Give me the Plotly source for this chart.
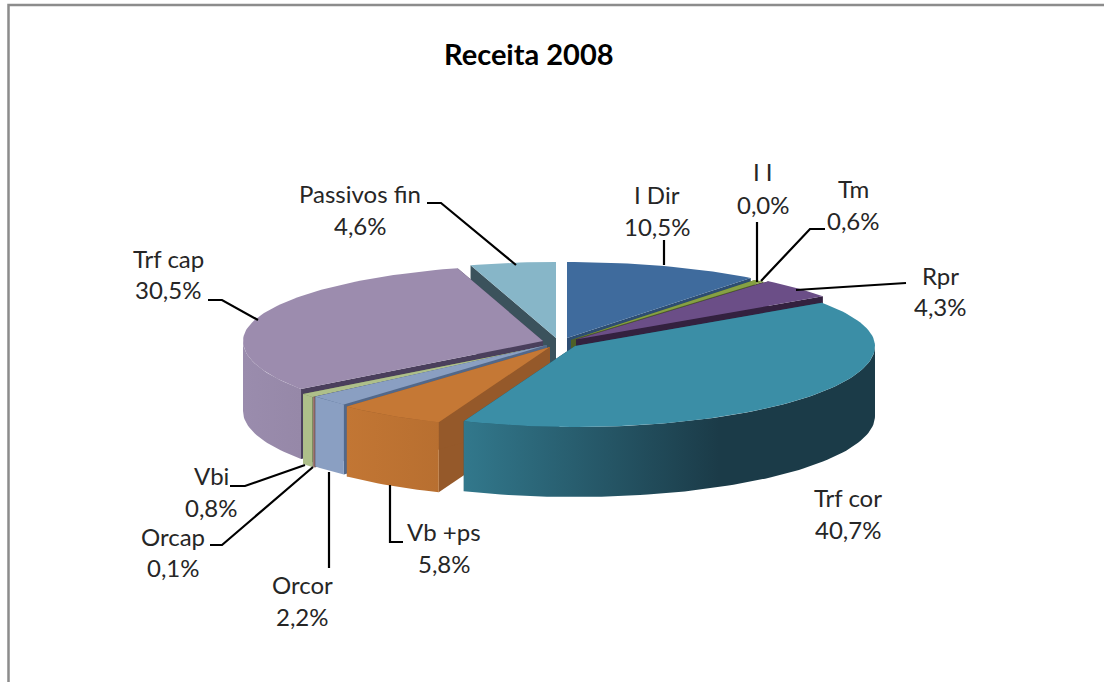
import math
import plotly.graph_objects as go

# --- data -----------------------------------------------------------------
categories = ["I Dir", "I I", "Tm", "Rpr", "Trf cor", "Vb +ps", "Orcor", "Orcap", "Vbi", "Trf cap", "Passivos fin"]
values = [10.5, 0.0, 0.6, 4.3, 40.7, 5.8, 2.2, 0.1, 0.8, 30.5, 4.6]
title_text = "Receita 2008"

# --- styles ---------------------------------------------------------------
top_col = ["#3f6b9d", "#86a044", "#86a044", "#6b4e87", "#3b8ea6", "#c57835", "#8a9fc2", "#a9807c", "#aebf8a", "#9c8cae", "#87b6c8"]
wall_left = ["#355a85", "#5f7330", "#5f7330", "#4f3a66", "#32788c", "#c27634", "#8a9fc2", "#a9807c", "#aebf8a", "#9a8cad", "#87b6c8"]
wall_right = ["#2d4d72", "#4e5f27", "#4e5f27", "#33213f", "#1b3b48", "#b86f30", "#8a9fc2", "#a9807c", "#aebf8a", "#9688a8", "#87b6c8"]
radial_col = ["#2d4d72", "#4e5f27", "#4e5f27", "#33213f", "#1f4a58", "#95592a", "#52688a", "#70504e", "#6f7d55", "#4a3f5c", "#3b525c"]
slice_cx = [567, 571, 571, 576, 575, 550, 547, 546, 545, 543, 556]
slice_cy = [338, 340, 340, 339.5, 346, 347, 345, 346, 346, 341, 338]
paint_order = [10, 0, 1, 2, 3, 9, 8, 7, 6, 5, 4]
RX, RY_BACK, RY_FRONT, DEPTH = 300, 76, 81, 70

label_x = [657, 763, 853, 940, 848, 444, 302, 173, 211, 168, 360]
name_y = [194, 171, 188, 275, 497, 531, 584, 536, 475, 258, 193]
pct_y = [226, 204, 220, 306, 529, 563, 616, 567, 507, 289, 225]
leader_x = [[664, 664], [757, 757], [825, 810, 761], [906, 796], [], [403, 390, 390], [329, 329], [210, 222, 313], [230, 245, 305], [208, 222, 258], [427, 441, 516]]
leader_y = [[240, 265], [222, 282], [229, 229, 281], [283, 290], [], [542, 542, 485], [568, 472], [545, 545, 467], [486, 486, 465], [300, 300, 320], [203, 203, 265]]

border_x = [8.5, 8.5, 1104]
border_y = [682, 5, 5]

# --- geometry derived from the values ---------------------------------------
total = sum(values)
starts, ends = [], []
acc = 0.0
for v in values:
    starts.append(acc / total * 360)
    acc += v
    ends.append(acc / total * 360)


def rim(cx, cy, deg):
    a = math.radians(deg)
    ry = RY_BACK if math.cos(a) > 0 else RY_FRONT
    return cx + RX * math.sin(a), cy - ry * math.cos(a)


def arc(cx, cy, a0, a1):
    n = max(2, int(abs(a1 - a0) / 1.5) + 2)
    pts = [rim(cx, cy, a0 + (a1 - a0) * k / (n - 1)) for k in range(n)]
    return [p[0] for p in pts], [p[1] for p in pts]


fig = go.Figure()


def poly(xs, ys, color=None, gradient=None):
    kw = dict(x=xs, y=ys, mode="lines", line=dict(width=0), fill="toself", hoverinfo="skip", showlegend=False)
    if gradient:
        kw["fillgradient"] = gradient
    else:
        kw["fillcolor"] = color
    fig.add_trace(go.Scatter(**kw))


for i in paint_order:
    if values[i] <= 0:
        continue
    cx, cy, a0, a1 = slice_cx[i], slice_cy[i], starts[i], ends[i]
    for edge in (a0, a1):
        ex, ey = rim(cx, cy, edge)
        poly([cx, ex, ex, cx], [cy, ey, ey + DEPTH, cy + DEPTH], radial_col[i])
    # outer wall: only the front part of the rim (below the horizontal extremes)
    w0, w1 = max(a0, 90), min(a1, 270)
    if w1 > w0:
        ax, ay = arc(cx, cy, w0, w1)
        poly(ax + ax[::-1], ay + [y + DEPTH for y in ay[::-1]],
             gradient=dict(type="horizontal", colorscale=[[0, wall_left[i]], [0.62, wall_right[i]], [1, wall_right[i]]])
             if i == 4 else dict(type="horizontal", colorscale=[[0, wall_left[i]], [1, wall_right[i]]]))
    ax, ay = arc(cx, cy, a0, a1)
    poly([cx] + ax, [cy] + ay, top_col[i])

for lx, ly in zip(leader_x, leader_y):
    if lx:
        fig.add_trace(go.Scatter(x=lx, y=ly, mode="lines", line=dict(color="#000000", width=2.2), hoverinfo="skip", showlegend=False))

fig.add_trace(go.Scatter(x=border_x, y=border_y, mode="lines", line=dict(color="#8c8c8c", width=2.5), hoverinfo="skip", showlegend=False, cliponaxis=False))

FONT = "Lato"
ann = []
for name, v, x, y0, y1 in zip(categories, values, label_x, name_y, pct_y):
    ann.append(dict(x=x, y=y0, text=name, showarrow=False, xanchor="center", yanchor="middle", font=dict(family=FONT, size=24, color="#262626")))
    ann.append(dict(x=x, y=y1, text=f"{v:.1f}%".replace(".", ","), showarrow=False, xanchor="center", yanchor="middle", font=dict(family=FONT, size=24, color="#262626")))
ann.append(dict(x=529, y=53, text=f"<b>{title_text}</b>", showarrow=False, xanchor="center", yanchor="middle", font=dict(family=FONT, size=29, color="#000000")))

fig.update_layout(
    width=1104, height=682, margin=dict(l=0, r=0, t=0, b=0),
    paper_bgcolor="white", plot_bgcolor="white", showlegend=False,
    xaxis=dict(range=[0, 1104], visible=False, fixedrange=True),
    yaxis=dict(range=[682, 0], visible=False, fixedrange=True),
    annotations=ann,
)
fig.write_html("out.html", config={"displayModeBar": False},
               post_script="document.body.style.margin='0';document.documentElement.style.overflow='hidden';")
